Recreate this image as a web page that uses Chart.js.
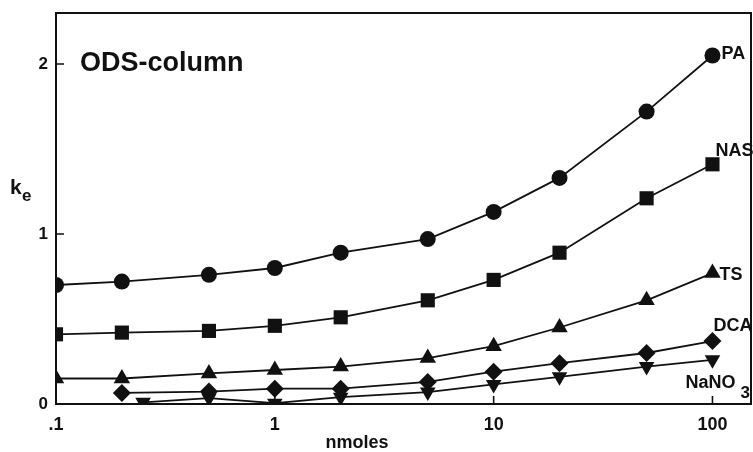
<!DOCTYPE html>
<html>
<head>
<meta charset="utf-8">
<script src="https://cdn.jsdelivr.net/npm/chart.js@4.4.0/dist/chart.umd.min.js"></script>
<style>
  html, body { margin: 0; padding: 0; background: #fff; }
  #wrap { width: 753px; height: 452px; }
</style>
</head>
<body>
<div id="wrap"><canvas id="chart"></canvas></div>
<script>
// --- Data (x = nmoles, y = k_e) ---
const nmolesMain = [0.1, 0.2, 0.5, 1, 2, 5, 10, 20, 50, 100];
const nmolesDCA = [0.2, 0.5, 1, 2, 5, 10, 20, 50, 100];
const nmolesNaNO3 = [0.25, 0.5, 1, 2, 5, 10, 20, 50, 100];

const kePA = [0.70, 0.72, 0.76, 0.80, 0.89, 0.97, 1.13, 1.33, 1.72, 2.05];
const keNAS = [0.41, 0.42, 0.43, 0.46, 0.51, 0.61, 0.73, 0.89, 1.21, 1.41];
const keTS = [0.15, 0.15, 0.18, 0.20, 0.22, 0.27, 0.34, 0.45, 0.61, 0.77];
const keDCA = [0.065, 0.073, 0.09, 0.09, 0.13, 0.19, 0.24, 0.30, 0.37];
const keNaNO3 = [0.01, 0.035, 0.005, 0.04, 0.07, 0.115, 0.16, 0.22, 0.26];

const xTickValues = [0.1, 1, 10, 100];
const xTickLabels = ['.1', '1', '10', '100'];
const yTickValues = [0, 1, 2];

const INK = '#111';
const FONT = '"Liberation Sans", Arial, sans-serif';

const toPoints = (xs, ys) => xs.map((x, i) => ({ x: x, y: ys[i] }));

const series = (label, xs, ys, style, radius, rotation) => ({
    label: label,
    data: toPoints(xs, ys),
    borderColor: INK,
    borderWidth: 1.8,
    backgroundColor: INK,
    pointBackgroundColor: INK,
    pointBorderWidth: 0,
    pointStyle: style,
    pointRadius: radius,
    pointRotation: rotation || 0,
    tension: 0
});

// --- Series labels, frame and inward ticks ---
const decorations = {
    id: 'decorations',
    afterDatasetsDraw(chart) {
        const { ctx, chartArea: a, scales: { x, y } } = chart;
        ctx.save();
        ctx.strokeStyle = INK;
        ctx.fillStyle = INK;

        // Frame
        ctx.lineWidth = 2;
        ctx.strokeRect(a.left, a.top, a.right - a.left, a.bottom - a.top);

        // Inward tick marks
        ctx.lineWidth = 1.6;
        ctx.beginPath();
        yTickValues.slice(1).forEach(v => {
            const py = y.getPixelForValue(v);
            ctx.moveTo(a.left, py);
            ctx.lineTo(a.left + 8, py);
        });
        xTickValues.slice(1).forEach(v => {
            const px = x.getPixelForValue(v);
            ctx.moveTo(px, a.bottom);
            ctx.lineTo(px, a.bottom - 8);
        });
        ctx.stroke();

        // Labels next to the last point of each series
        const last = i => {
            const pts = chart.getDatasetMeta(i).data;
            return pts[pts.length - 1];
        };
        ctx.textBaseline = 'middle';
        ctx.textAlign = 'left';
        ctx.font = 'bold 18px ' + FONT;
        let p = last(0);
        ctx.fillText('PA', p.x + 9, p.y - 1);
        p = last(1);
        ctx.fillText('NAS', p.x + 3, p.y - 13);
        p = last(2);
        ctx.fillText('TS', p.x + 7, p.y + 2);
        p = last(3);
        ctx.fillText('DCA', p.x + 1, p.y - 15);
        p = last(4);
        ctx.fillText('NaNO', p.x - 27, p.y + 23);
        ctx.font = 'bold 17px ' + FONT;
        ctx.fillText('3', p.x + 28, p.y + 34);

        // Panel title
        ctx.font = 'bold 27px ' + FONT;
        ctx.fillText('ODS-column', a.left + 24, y.getPixelForValue(2));

        // Axis titles
        ctx.textAlign = 'center';
        ctx.font = 'bold 18px ' + FONT;
        ctx.fillText('nmoles', 357, 443);

        ctx.textAlign = 'left';
        ctx.textBaseline = 'alphabetic';
        ctx.font = 'bold 21px ' + FONT;
        ctx.fillText('k', 10, 194);
        ctx.font = 'bold 17px ' + FONT;
        ctx.fillText('e', 22, 201);
        ctx.restore();
    }
};

const ctx = document.getElementById('chart').getContext('2d');

new Chart(ctx, {
    type: 'line',
    data: {
        datasets: [
            series('PA', nmolesMain, kePA, 'circle', 8),
            series('NAS', nmolesMain, keNAS, 'rect', 10),
            series('TS', nmolesMain, keTS, 'triangle', 9.5),
            series('DCA', nmolesDCA, keDCA, 'rectRot', 9),
            series('NaNO3', nmolesNaNO3, keNaNO3, 'triangle', 9, 180)
        ]
    },
    options: {
        responsive: true,
        maintainAspectRatio: false,
        animation: false,
        layout: {
            autoPadding: false,
            padding: { top: 13, right: 2, left: 0, bottom: 0 }
        },
        plugins: {
            legend: { display: false },
            tooltip: { enabled: false }
        },
        scales: {
            x: {
                type: 'logarithmic',
                min: 0.1,
                max: 150,
                grid: { display: false, drawTicks: false },
                border: { display: false },
                afterBuildTicks: scale => {
                    scale.ticks = xTickValues.map(v => ({ value: v }));
                },
                afterFit: scale => {
                    scale.height = 48;
                    scale.paddingLeft = 0;
                    scale.paddingRight = 0;
                },
                ticks: {
                    autoSkip: false,
                    maxRotation: 0,
                    padding: 10,
                    color: INK,
                    font: { family: FONT, size: 18, weight: 'bold' },
                    callback: (value) => xTickLabels[xTickValues.indexOf(value)]
                }
            },
            y: {
                type: 'linear',
                min: 0,
                max: 2.3,
                grid: { display: false, drawTicks: false },
                border: { display: false },
                afterBuildTicks: scale => {
                    scale.ticks = yTickValues.map(v => ({ value: v }));
                },
                afterFit: scale => {
                    scale.width = 56;
                    scale.paddingTop = 0;
                    scale.paddingBottom = 0;
                },
                ticks: {
                    padding: 8,
                    color: INK,
                    font: { family: FONT, size: 17, weight: 'bold' },
                    callback: (value) => String(value)
                }
            }
        }
    },
    plugins: [decorations]
});
</script>
</body>
</html>
